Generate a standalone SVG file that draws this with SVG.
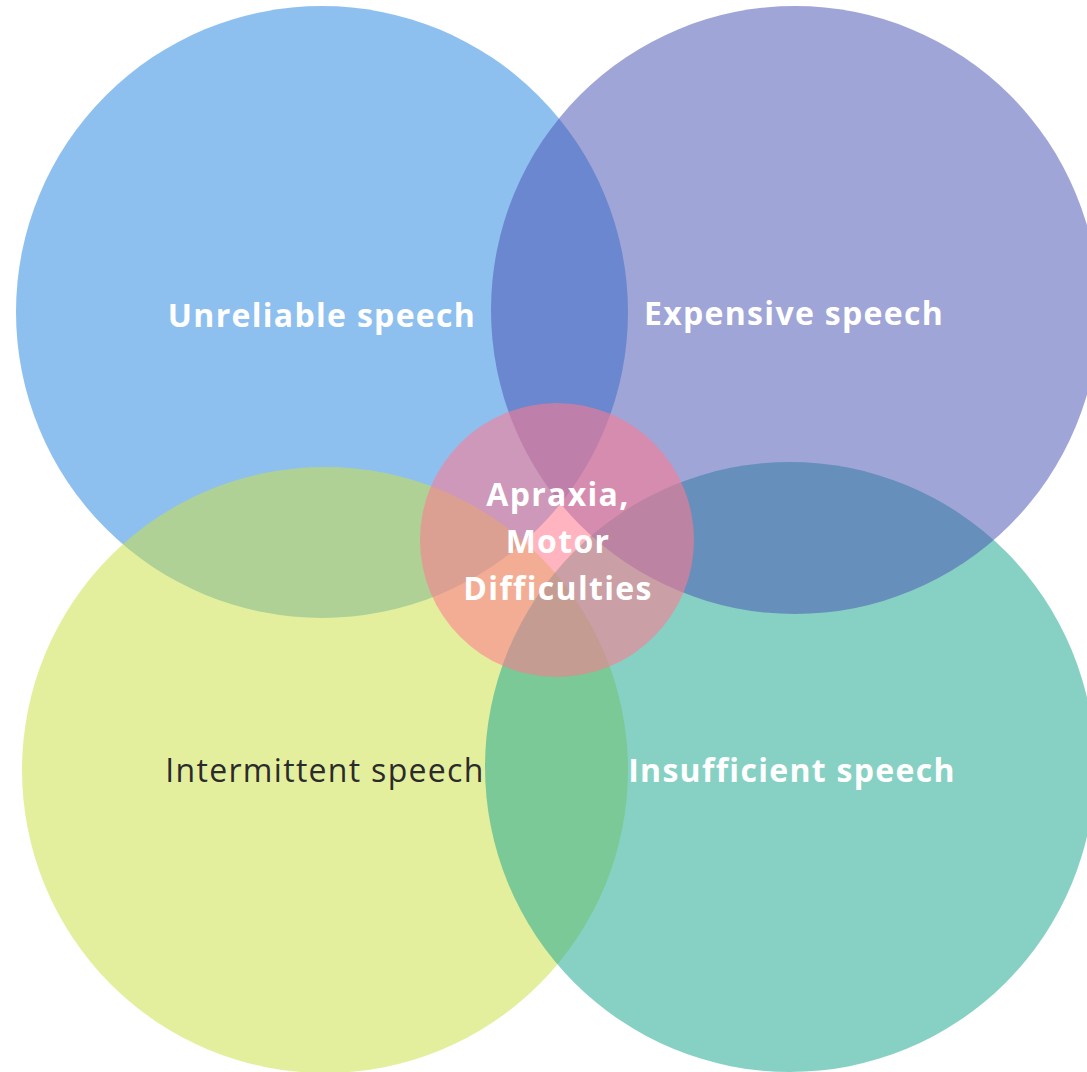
<svg xmlns="http://www.w3.org/2000/svg" width="1087" height="1072" viewBox="0 0 1087 1072">
  <style>
    .set { opacity: 0.53; }
    .core { opacity: 0.56; }
    .lbl { font-family: "Open Sans", "Liberation Sans", sans-serif; font-size: 32px; letter-spacing: 1.3px; text-anchor: middle; }
    .light { fill: #ffffff; font-weight: 700; }
    .dark { fill: #2b2b2b; font-weight: 400; }
  </style>
  <rect width="1087" height="1072" fill="#ffffff"/>
  <g id="unreliable">
    <circle class="set" cx="322" cy="312" r="306" fill="#2a88e1"/>
  </g>
  <g id="intermittent">
    <circle class="set" cx="325" cy="770" r="303" fill="#cce148"/>
  </g>
  <g id="insufficient">
    <circle class="set" cx="790" cy="767" r="305" fill="#1ca88f"/>
  </g>
  <g id="expensive">
    <circle class="set" cx="795" cy="310" r="304" fill="#4b55b3"/>
  </g>
  <g id="apraxia">
    <circle class="core" cx="557" cy="540" r="137" fill="#ff7a8e"/>
  </g>
  <g id="connectors"></g>
  <g id="labels">
    <text class="lbl light" x="322" y="327">Unreliable speech</text>
    <text class="lbl light" x="794" y="325">Expensive speech</text>
    <text class="lbl dark" x="325" y="782">Intermittent speech</text>
    <text class="lbl light" x="792" y="782">Insufficient speech</text>
    <text class="lbl light" x="558" y="506">Apraxia,</text>
    <text class="lbl light" x="558" y="553">Motor</text>
    <text class="lbl light" x="558" y="600">Difficulties</text>
  </g>
</svg>
